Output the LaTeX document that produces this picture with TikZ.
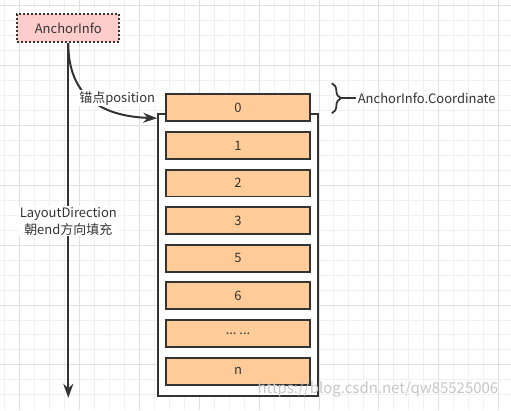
\documentclass[tikz,border=0pt]{standalone}
\usepackage{fontspec}
\setmainfont{Noto Sans CJK SC}
\usetikzlibrary{arrows.meta,positioning,decorations.pathreplacing}
\definecolor{ink}{HTML}{333333}
\definecolor{pinkbox}{HTML}{FFCCCC}
\definecolor{peach}{HTML}{FFCC99}
\definecolor{gridminor}{HTML}{F0F0F0}
\definecolor{gridmajor}{HTML}{E0E0E0}
\newcommand{\moreslots}{...\ ...}

\begin{document}
\begin{tikzpicture}[x=1pt,y=-1pt,>={Stealth[length=14pt,width=10pt]},line width=2pt,
  slot/.style={draw=ink,fill=peach,minimum width=144pt,minimum height=27pt,inner sep=0pt,text=ink,font=\fontsize{13}{15}\selectfont},
  lbl/.style={fill=white,inner sep=1pt,text=ink,font=\fontsize{13}{17}\selectfont}]

% --- background grid ---
\fill[white] (0,0) rectangle (511,410);
\foreach \x in {4,19,...,510} \draw[gridminor,line width=0.8pt] (\x,0) -- (\x,410);
\foreach \y in {5,20,...,409} \draw[gridminor,line width=0.8pt] (0,\y) -- (511,\y);
\foreach \x in {19,79,...,510} \draw[gridmajor,line width=0.8pt] (\x,0) -- (\x,410);
\foreach \y in {5,65,...,409} \draw[gridmajor,line width=0.8pt] (0,\y) -- (511,\y);
\useasboundingbox (0,0) rectangle (511,410);

% --- anchor ---
\node[draw=ink,dash pattern=on 2pt off 2pt,fill=pinkbox,minimum width=102pt,minimum height=28pt,inner sep=0pt,
  text=ink,font=\fontsize{13}{15}\selectfont] (anchorinfo) at (68,28) {AnchorInfo};

% --- list of slots ---
\node[draw=ink,fill=white,minimum width=160pt,minimum height=282pt,inner sep=0pt] (list) at (238,255) {};
\foreach \lab [count=\k from 0] in {0,1,2,3,5,6,\moreslots,n}
  \node[slot] (i\k) at (238,107.5+37.7*\k) {\lab};

% --- direction ---
\coordinate (dirend) at (68,398);
\draw[ink,->] (anchorinfo.south) -- (dirend);
\node[lbl,align=center] (dirlabel) at (68,221) {LayoutDirection\\朝end方向填充};

% --- anchor position ---
\coordinate (entry) at (157,118);
\draw[ink,->] (anchorinfo.south) .. controls (68,95) and (100,116) .. (entry);
\node[lbl] (poslabel) at (117,98) {锚点position};

% --- coordinate brace ---
\coordinate (bracetop) at (332,83);
\coordinate (bracebot) at (332,113);
\coordinate (bracetip) at (341,98);
\draw[ink,line width=1.8pt,decorate,decoration={brace,amplitude=9pt}] (bracetop) -- (bracebot);
\node[lbl,anchor=west,fill=none] (coordtext) at (356,98) {AnchorInfo.Coordinate};
\draw[ink,line width=1.8pt] (bracetip) -- (coordtext.west);

% --- watermark ---
\node[text=black!22,font=\fontsize{15}{17}\selectfont,anchor=east] (mark) at (503,390) {https://blog.csdn.net/qw85525006};

\end{tikzpicture}
\end{document}
